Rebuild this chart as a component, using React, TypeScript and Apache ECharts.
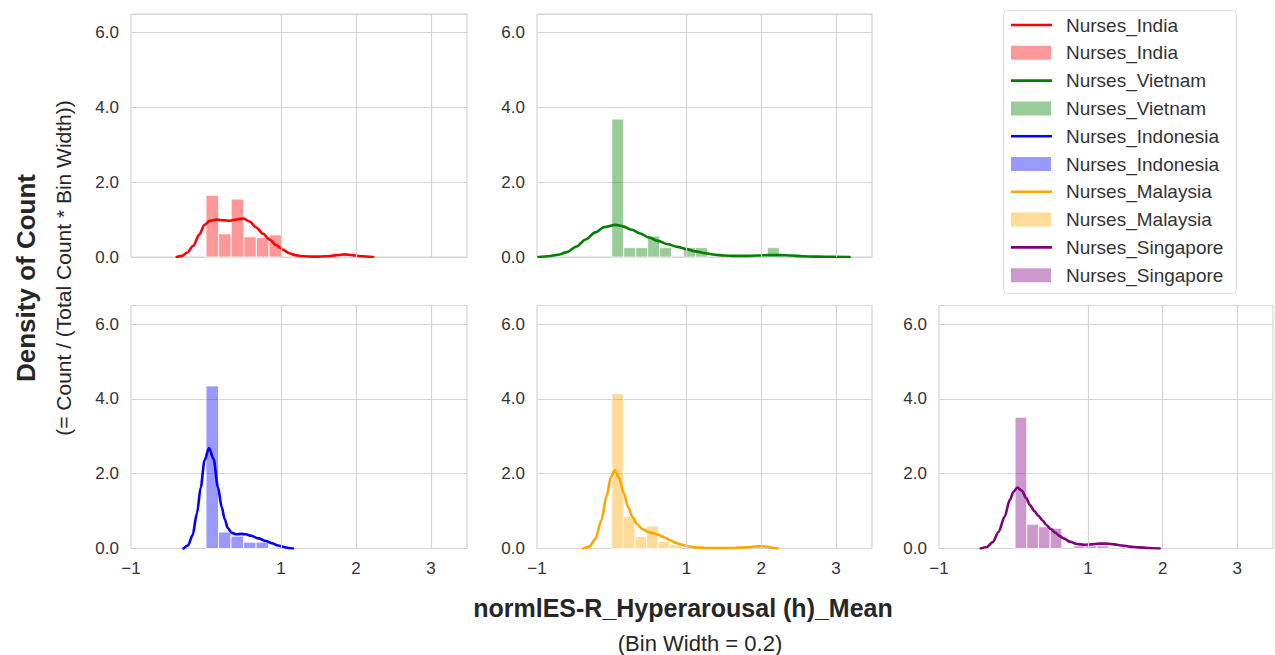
import React, { useEffect, useRef } from "react";
import * as echarts from "echarts";

// ---------- data ----------
const countries = ["Nurses_India", "Nurses_Vietnam", "Nurses_Indonesia", "Nurses_Malaysia", "Nurses_Singapore"];
const lineColors = ["#ff0000", "#008000", "#0000ff", "#ffa500", "#800080"];
const patchColors = ["rgba(255,0,0,0.4)", "rgba(0,128,0,0.4)", "rgba(0,0,255,0.4)", "rgba(255,165,0,0.4)", "rgba(128,0,128,0.4)"];

const xTickValues = [-1, 1, 2, 3];
const yTickValues = [0, 2, 4, 6];

// histogram bins: [start, width]
const indiaBin = [0, 0.168];
const vietnamBin = [0, 0.16];
const indonesiaBin = [0, 0.167];
const malaysiaBin = [0, 0.155];
const singaporeBin = [0.02, 0.157];

const indiaBars = [1.65, 0.62, 1.55, 0.54, 0.52, 0.59];
const vietnamBars = [3.69, 0.25, 0.25, 0.56, 0.25, 0, 0.25, 0.25, 0, 0, 0, 0, 0, 0.25];
const indonesiaBars = [4.35, 0.44, 0.33, 0.17, 0.17];
const malaysiaBars = [4.14, 0.86, 0.32, 0.6, 0.19, 0.1];
const singaporeBars = [3.51, 0.65, 0.58, 0.54, 0, 0.07, 0.07, 0.07];

const indiaKde = [[-0.39, 0], [-0.32, 0.03], [-0.25, 0.12], [-0.17, 0.3], [-0.09, 0.6], [-0.02, 0.86], [0.05, 0.97], [0.14, 1.0], [0.24, 0.98], [0.32, 0.97], [0.42, 1.01], [0.5, 1.03], [0.58, 0.95], [0.67, 0.79], [0.76, 0.62], [0.85, 0.46], [0.94, 0.31], [1.03, 0.19], [1.11, 0.1], [1.19, 0.05], [1.3, 0.02], [1.45, 0.01], [1.6, 0.02], [1.75, 0.05], [1.85, 0.07], [1.95, 0.05], [2.08, 0.02], [2.23, 0]];
const vietnamKde = [[-0.98, 0], [-0.85, 0.02], [-0.72, 0.06], [-0.6, 0.13], [-0.47, 0.28], [-0.35, 0.47], [-0.22, 0.66], [-0.1, 0.8], [0.05, 0.86], [0.15, 0.82], [0.27, 0.73], [0.38, 0.63], [0.5, 0.52], [0.62, 0.43], [0.75, 0.34], [0.88, 0.27], [1.0, 0.21], [1.12, 0.15], [1.25, 0.1], [1.38, 0.06], [1.5, 0.04], [1.65, 0.03], [1.8, 0.03], [1.95, 0.04], [2.1, 0.05], [2.25, 0.05], [2.4, 0.04], [2.55, 0.02], [2.75, 0.01], [2.95, 0.005], [3.18, 0]];
const indonesiaKde = [[-0.3, 0], [-0.24, 0.08], [-0.18, 0.35], [-0.12, 0.95], [-0.07, 1.64], [-0.02, 2.35], [0.04, 2.69], [0.1, 2.4], [0.16, 1.64], [0.21, 1.1], [0.25, 0.78], [0.29, 0.55], [0.34, 0.42], [0.4, 0.38], [0.47, 0.39], [0.53, 0.38], [0.6, 0.34], [0.7, 0.27], [0.8, 0.2], [0.88, 0.14], [0.96, 0.08], [1.04, 0.04], [1.1, 0.015], [1.16, 0]];
const malaysiaKde = [[-0.38, 0], [-0.3, 0.05], [-0.22, 0.25], [-0.14, 0.75], [-0.07, 1.4], [-0.01, 1.92], [0.04, 2.09], [0.1, 1.88], [0.16, 1.48], [0.22, 1.1], [0.28, 0.83], [0.34, 0.65], [0.41, 0.52], [0.48, 0.45], [0.55, 0.41], [0.62, 0.37], [0.7, 0.3], [0.78, 0.22], [0.86, 0.15], [0.94, 0.1], [1.02, 0.06], [1.12, 0.03], [1.25, 0.015], [1.45, 0.01], [1.65, 0.015], [1.8, 0.03], [1.92, 0.055], [2.0, 0.06], [2.08, 0.045], [2.15, 0.02], [2.22, 0]];
const singaporeKde = [[-0.44, 0], [-0.36, 0.04], [-0.28, 0.17], [-0.2, 0.45], [-0.12, 0.85], [-0.05, 1.3], [0.0, 1.52], [0.05, 1.63], [0.11, 1.55], [0.17, 1.35], [0.22, 1.16], [0.28, 1.0], [0.33, 0.88], [0.39, 0.75], [0.44, 0.63], [0.5, 0.52], [0.56, 0.42], [0.62, 0.33], [0.67, 0.27], [0.76, 0.18], [0.85, 0.12], [0.95, 0.1], [1.05, 0.11], [1.15, 0.13], [1.25, 0.13], [1.35, 0.11], [1.46, 0.08], [1.56, 0.05], [1.68, 0.03], [1.8, 0.015], [1.96, 0]];

const allBins = [indiaBin, vietnamBin, indonesiaBin, malaysiaBin, singaporeBin];
const allBars = [indiaBars, vietnamBars, indonesiaBars, malaysiaBars, singaporeBars];
const allKde = [indiaKde, vietnamKde, indonesiaKde, malaysiaKde, singaporeKde];

// ---------- layout ----------
const X_MIN = -1;
const X_MAX = 3.48;
const Y_MAX = 6.5;
const FONT = "'Liberation Sans', Arial, sans-serif";
const TXT = "#333333";
const GRIDC = "#d4d4d4";

const panels = [
  { left: 131, top: 14, width: 336, height: 243, xLabels: false },
  { left: 537, top: 14, width: 335, height: 243, xLabels: false },
  { left: 131, top: 305.5, width: 336, height: 243, xLabels: true },
  { left: 537, top: 305.5, width: 335, height: 243, xLabels: true },
  { left: 939, top: 305.5, width: 334, height: 243, xLabels: true },
];

function buildOption() {
  const grid: any[] = [];
  const xAxis: any[] = [];
  const yAxis: any[] = [];
  const series: any[] = [];

  panels.forEach((p, i) => {
    grid.push({
      left: p.left, top: p.top, width: p.width, height: p.height,
      show: true, borderColor: GRIDC, borderWidth: 1.2, backgroundColor: "#ffffff",
      containLabel: false,
    });
    xAxis.push({
      type: "value", gridIndex: i, min: X_MIN, max: X_MAX, interval: 1,
      axisLine: { show: false }, axisTick: { show: false }, splitLine: { show: false },
      axisLabel: {
        show: p.xLabels, showMaxLabel: false, margin: 11,
        fontSize: 17, color: TXT, fontFamily: FONT,
        formatter: (v: number) => (xTickValues.indexOf(v) >= 0 ? (v < 0 ? "\u2212" + Math.abs(v) : String(v)) : ""),
      },
    });
    yAxis.push({
      type: "value", gridIndex: i, min: 0, max: Y_MAX, interval: 2,
      axisLine: { show: false }, axisTick: { show: false },
      splitLine: { show: true, lineStyle: { color: GRIDC, width: 1.2 } },
      axisLabel: {
        showMaxLabel: false, margin: 12, fontSize: 17, color: TXT, fontFamily: FONT,
        formatter: (v: number) => (yTickValues.indexOf(v) >= 0 ? v.toFixed(1) : ""),
      },
    });

    // vertical gridlines at labelled ticks (no line at 0)
    series.push({
      type: "line", xAxisIndex: i, yAxisIndex: i, data: [], z: 1, silent: true,
      markLine: {
        silent: true, symbol: ["none", "none"], label: { show: false },
        lineStyle: { color: GRIDC, width: 1.2, type: "solid" },
        data: xTickValues.filter((v) => v > X_MIN).map((v) => ({ xAxis: v })),
        animation: false,
      },
    });

    const [start, w] = allBins[i];
    const barData = allBars[i]
      .map((h, k) => [start + k * w, start + (k + 1) * w, h])
      .filter((d) => d[2] > 0);
    const fill = patchColors[i];
    series.push({
      type: "custom", name: countries[i], xAxisIndex: i, yAxisIndex: i, z: 2,
      encode: { x: [0, 1], y: 2 },
      data: barData,
      renderItem: (params: any, api: any) => {
        const p0 = api.coord([api.value(0), api.value(2)]);
        const p1 = api.coord([api.value(1), 0]);
        return {
          type: "rect",
          shape: { x: p0[0], y: p0[1], width: p1[0] - p0[0], height: p1[1] - p0[1] },
          style: { fill, stroke: "rgba(255,255,255,0.85)", lineWidth: 1 },
        };
      },
    });

    series.push({
      type: "line", name: countries[i], xAxisIndex: i, yAxisIndex: i, z: 3,
      data: allKde[i], showSymbol: false, smooth: 0.3, smoothMonotone: "x",
      lineStyle: { color: lineColors[i], width: 2.6, cap: "round", join: "round" },
      itemStyle: { color: lineColors[i] },
    });
  });

  // legend (drawn manually so duplicate names show as separate entries)
  const legend: any[] = [
    {
      type: "rect", shape: { x: 1003.5, y: 10.5, width: 233, height: 283, r: 4 },
      style: { fill: "#ffffff", stroke: "#dcdcdc", lineWidth: 1 }, z: 10,
    },
  ];
  for (let r = 0; r < 10; r++) {
    const ci = Math.floor(r / 2);
    const cy = 25 + r * 27.8;
    if (r % 2 === 0) {
      legend.push({
        type: "line", shape: { x1: 1011, y1: cy, x2: 1052, y2: cy },
        style: { stroke: lineColors[ci], lineWidth: 2.6 }, z: 11,
      });
    } else {
      legend.push({
        type: "rect", shape: { x: 1011, y: cy - 7, width: 40, height: 14 },
        style: { fill: patchColors[ci] }, z: 11,
      });
    }
    legend.push({
      type: "text", x: 1066, y: cy, z: 11,
      style: { text: countries[ci], fontSize: 19, fontFamily: FONT, fill: TXT, textVerticalAlign: "middle", textAlign: "left" },
    });
  }

  const titles: any[] = [
    {
      type: "text", x: 26, y: 278, rotation: Math.PI / 2,
      style: { text: "Density of Count", fontSize: 26, fontWeight: "bold", fontFamily: FONT, fill: "#262626", textAlign: "center", textVerticalAlign: "middle" },
    },
    {
      type: "text", x: 63, y: 268, rotation: Math.PI / 2,
      style: { text: "(= Count / (Total Count * Bin Width))", fontSize: 21, fontFamily: FONT, fill: "#262626", textAlign: "center", textVerticalAlign: "middle" },
    },
    {
      type: "text", x: 683, y: 608,
      style: { text: "normlES-R_Hyperarousal (h)_Mean", fontSize: 25, fontWeight: "bold", fontFamily: FONT, fill: "#262626", textAlign: "center", textVerticalAlign: "middle" },
    },
    {
      type: "text", x: 700, y: 643,
      style: { text: "(Bin Width = 0.2)", fontSize: 22, fontFamily: FONT, fill: "#262626", textAlign: "center", textVerticalAlign: "middle" },
    },
  ];

  return {
    animation: false,
    backgroundColor: "#ffffff",
    grid, xAxis, yAxis, series,
    graphic: [...legend, ...titles],
  };
}

export default function App() {
  const ref = useRef<HTMLDivElement>(null);
  useEffect(() => {
    if (!ref.current) return;
    const chart = echarts.init(ref.current, null, { renderer: "svg" });
    chart.setOption(buildOption() as any);
    return () => chart.dispose();
  }, []);
  return (
    <div
      ref={ref}
      style={{ position: "fixed", left: 0, top: 0, width: 1275, height: 655, background: "#fff" }}
    />
  );
}
